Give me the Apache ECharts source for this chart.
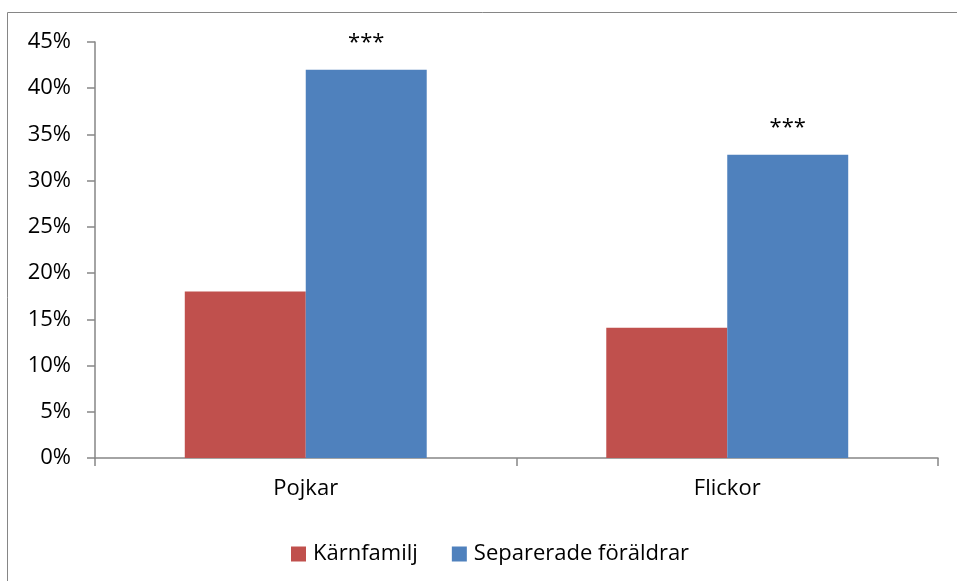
<!DOCTYPE html>
<html>
<head>
<meta charset="utf-8">
<script src="https://cdn.jsdelivr.net/npm/echarts@6/dist/echarts.min.js"></script>
<style>
  html, body { margin: 0; padding: 0; background: #fff; }
  #chart { width: 957px; height: 581px; }
</style>
</head>
<body>
<div id="chart"></div>
<script>
// data
const categories = ['Pojkar', 'Flickor'];
const seriesNames = ['Kärnfamilj', 'Separerade föräldrar'];
const karnfamilj = [18, 14.1];
const separerade = [42, 32.8];
const markLabels = ['***', '***'];

const font = 'Open Sans';
const axisColor = '#868686';

const myChart = echarts.init(document.getElementById('chart'));
const option = {
  animation: false,
  color: ['#C0504D', '#4F81BD'],
  textStyle: { fontFamily: font },
  graphic: [{
    type: 'rect',
    shape: { x: 7.5, y: 12.5, width: 1200, height: 1200 },
    style: { fill: 'none', stroke: axisColor, lineWidth: 1 },
    silent: true
  }],
  grid: { left: 95, right: 19, top: 42, bottom: 123 },
  legend: {
    left: 286,
    top: 538,
    itemWidth: 15,
    itemHeight: 15,
    itemGap: 34,
    icon: 'rect',
    textStyle: { fontFamily: font, fontSize: 22, color: '#000', padding: [0, 0, 0, 2] },
    data: seriesNames
  },
  xAxis: {
    type: 'category',
    data: categories,
    axisLine: { lineStyle: { color: axisColor, width: 1.5 } },
    axisTick: { show: true, length: 8, lineStyle: { color: axisColor, width: 1.5 } },
    axisLabel: { color: '#000', fontSize: 22, fontFamily: font, margin: 20 }
  },
  yAxis: {
    type: 'value',
    min: 0,
    max: 45,
    interval: 5,
    splitLine: { show: false },
    axisLine: { show: true, lineStyle: { color: axisColor, width: 1.5 } },
    axisTick: { show: true, length: 8, lineStyle: { color: axisColor, width: 1.5 } },
    axisLabel: { color: '#000', fontSize: 22, fontFamily: font, margin: 24, formatter: '{value}%' }
  },
  series: [
    {
      name: seriesNames[0],
      type: 'bar',
      barGap: '0%',
      barCategoryGap: '42.6%',
      data: karnfamilj
    },
    {
      name: seriesNames[1],
      type: 'bar',
      barGap: '0%',
      barCategoryGap: '42.6%',
      data: separerade,
      label: {
        show: true,
        position: 'top',
        distance: 16,
        color: '#000',
        fontSize: 22,
        fontFamily: font,
        formatter: function (p) { return markLabels[p.dataIndex]; }
      }
    }
  ]
};
myChart.setOption(option, true);
window.addEventListener('resize', function () {
  myChart.resize();
});
</script>
</body>
</html>
